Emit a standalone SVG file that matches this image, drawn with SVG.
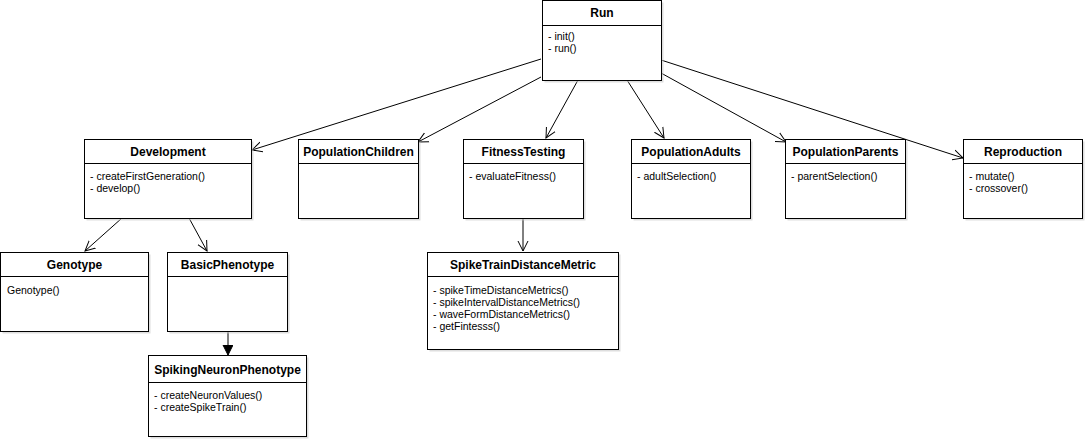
<svg xmlns="http://www.w3.org/2000/svg" width="1089" height="444" viewBox="0 0 1089 444">
<style>
.box{fill:#fff;stroke:#000;stroke-width:1}
.sh{fill:#c8c8c8;opacity:0.6}
.sep{stroke:#000;stroke-width:1}
.t{font-family:"Liberation Sans",Arial,sans-serif;font-size:12px;font-weight:bold;text-anchor:middle;fill:#000}
.m{font-family:"Liberation Sans",Arial,sans-serif;font-size:10.5px;fill:#000}
.c{stroke:#000;stroke-width:1;fill:none}
</style>
<defs>
<marker id="open" markerWidth="14" markerHeight="14" refX="10" refY="6" orient="auto" markerUnits="userSpaceOnUse">
<path d="M0,1 L10,6 L0,11" fill="none" stroke="#000" stroke-width="1"/>
</marker>
<marker id="fill" markerWidth="14" markerHeight="14" refX="10" refY="5" orient="auto" markerUnits="userSpaceOnUse">
<path d="M0,0 L10,5 L0,10 Z" fill="#000" stroke="#000"/>
</marker>
</defs>
<rect width="1089" height="444" fill="#fff"/>
<g id="connectors">
<line class="c" x1="541" y1="59" x2="252" y2="150" marker-end="url(#open)"/>
<line class="c" x1="541" y1="77" x2="418" y2="142" marker-end="url(#open)"/>
<line class="c" x1="578" y1="80" x2="546" y2="138" marker-end="url(#open)"/>
<line class="c" x1="627" y1="80" x2="664" y2="138" marker-end="url(#open)"/>
<line class="c" x1="661" y1="73" x2="786" y2="142" marker-end="url(#open)"/>
<line class="c" x1="661" y1="60" x2="963" y2="158" marker-end="url(#open)"/>
<line class="c" x1="122" y1="218" x2="85" y2="251" marker-end="url(#open)"/>
<line class="c" x1="189" y1="218" x2="207" y2="251" marker-end="url(#open)"/>
<line class="c" x1="523" y1="218" x2="523" y2="251" marker-end="url(#open)"/>
<line class="c" x1="228" y1="331" x2="228" y2="355" marker-end="url(#fill)"/>
</g>
<g id="Run">
<rect class="sh" x="544.5" y="2.5" width="119" height="80"/>
<rect class="box" x="542.5" y="0.5" width="119" height="80"/>
<line class="sep" x1="542.5" y1="25.5" x2="661.5" y2="25.5"/>
<text class="t" x="602" y="17">Run</text>
<text class="m" x="548" y="40">- init()</text>
<text class="m" x="548" y="52">- run()</text>
</g>
<g id="Development">
<rect class="sh" x="86.5" y="141.5" width="167" height="79"/>
<rect class="box" x="84.5" y="139.5" width="167" height="79"/>
<line class="sep" x1="84.5" y1="163.5" x2="251.5" y2="163.5"/>
<text class="t" x="168" y="156">Development</text>
<text class="m" x="90" y="180">- createFirstGeneration()</text>
<text class="m" x="90" y="192">- develop()</text>
</g>
<g id="PopulationChildren">
<rect class="sh" x="300.5" y="141.5" width="120" height="79"/>
<rect class="box" x="298.5" y="139.5" width="120" height="79"/>
<line class="sep" x1="298.5" y1="163.5" x2="418.5" y2="163.5"/>
<text class="t" x="358.5" y="156">PopulationChildren</text>
</g>
<g id="FitnessTesting">
<rect class="sh" x="465.5" y="141.5" width="120" height="79"/>
<rect class="box" x="463.5" y="139.5" width="120" height="79"/>
<line class="sep" x1="463.5" y1="163.5" x2="583.5" y2="163.5"/>
<text class="t" x="523.5" y="156">FitnessTesting</text>
<text class="m" x="469" y="180">- evaluateFitness()</text>
</g>
<g id="PopulationAdults">
<rect class="sh" x="633.5" y="141.5" width="119" height="79"/>
<rect class="box" x="631.5" y="139.5" width="119" height="79"/>
<line class="sep" x1="631.5" y1="163.5" x2="750.5" y2="163.5"/>
<text class="t" x="691" y="156">PopulationAdults</text>
<text class="m" x="637" y="180">- adultSelection()</text>
</g>
<g id="PopulationParents">
<rect class="sh" x="787.5" y="141.5" width="120" height="79"/>
<rect class="box" x="785.5" y="139.5" width="120" height="79"/>
<line class="sep" x1="785.5" y1="163.5" x2="905.5" y2="163.5"/>
<text class="t" x="845.5" y="156">PopulationParents</text>
<text class="m" x="791" y="180">- parentSelection()</text>
</g>
<g id="Reproduction">
<rect class="sh" x="965.5" y="141.5" width="119" height="79"/>
<rect class="box" x="963.5" y="139.5" width="119" height="79"/>
<line class="sep" x1="963.5" y1="163.5" x2="1082.5" y2="163.5"/>
<text class="t" x="1023" y="156">Reproduction</text>
<text class="m" x="969" y="180">- mutate()</text>
<text class="m" x="969" y="192">- crossover()</text>
</g>
<g id="Genotype">
<rect class="sh" x="2.5" y="254.5" width="148" height="79"/>
<rect class="box" x="0.5" y="252.5" width="148" height="79"/>
<line class="sep" x1="0.5" y1="276.5" x2="148.5" y2="276.5"/>
<text class="t" x="74.5" y="269">Genotype</text>
<text class="m" x="7" y="294">Genotype()</text>
</g>
<g id="BasicPhenotype">
<rect class="sh" x="169.5" y="254.5" width="120" height="79"/>
<rect class="box" x="167.5" y="252.5" width="120" height="79"/>
<line class="sep" x1="167.5" y1="276.5" x2="287.5" y2="276.5"/>
<text class="t" x="227.5" y="269">BasicPhenotype</text>
</g>
<g id="SpikeTrainDistanceMetric">
<rect class="sh" x="429.5" y="254.5" width="191" height="97"/>
<rect class="box" x="427.5" y="252.5" width="191" height="97"/>
<line class="sep" x1="427.5" y1="276.5" x2="618.5" y2="276.5"/>
<text class="t" x="523" y="269">SpikeTrainDistanceMetric</text>
<text class="m" x="433" y="294">- spikeTimeDistanceMetrics()</text>
<text class="m" x="433" y="306">- spikeIntervalDistanceMetrics()</text>
<text class="m" x="433" y="318">- waveFormDistanceMetrics()</text>
<text class="m" x="433" y="330">- getFintesss()</text>
</g>
<g id="SpikingNeuronPhenotype">
<rect class="sh" x="150.5" y="357.5" width="158" height="81"/>
<rect class="box" x="148.5" y="355.5" width="158" height="81"/>
<line class="sep" x1="148.5" y1="382.5" x2="306.5" y2="382.5"/>
<text class="t" x="227.5" y="374">SpikingNeuronPhenotype</text>
<text class="m" x="154" y="399">- createNeuronValues()</text>
<text class="m" x="154" y="411">- createSpikeTrain()</text>
</g>
</svg>
